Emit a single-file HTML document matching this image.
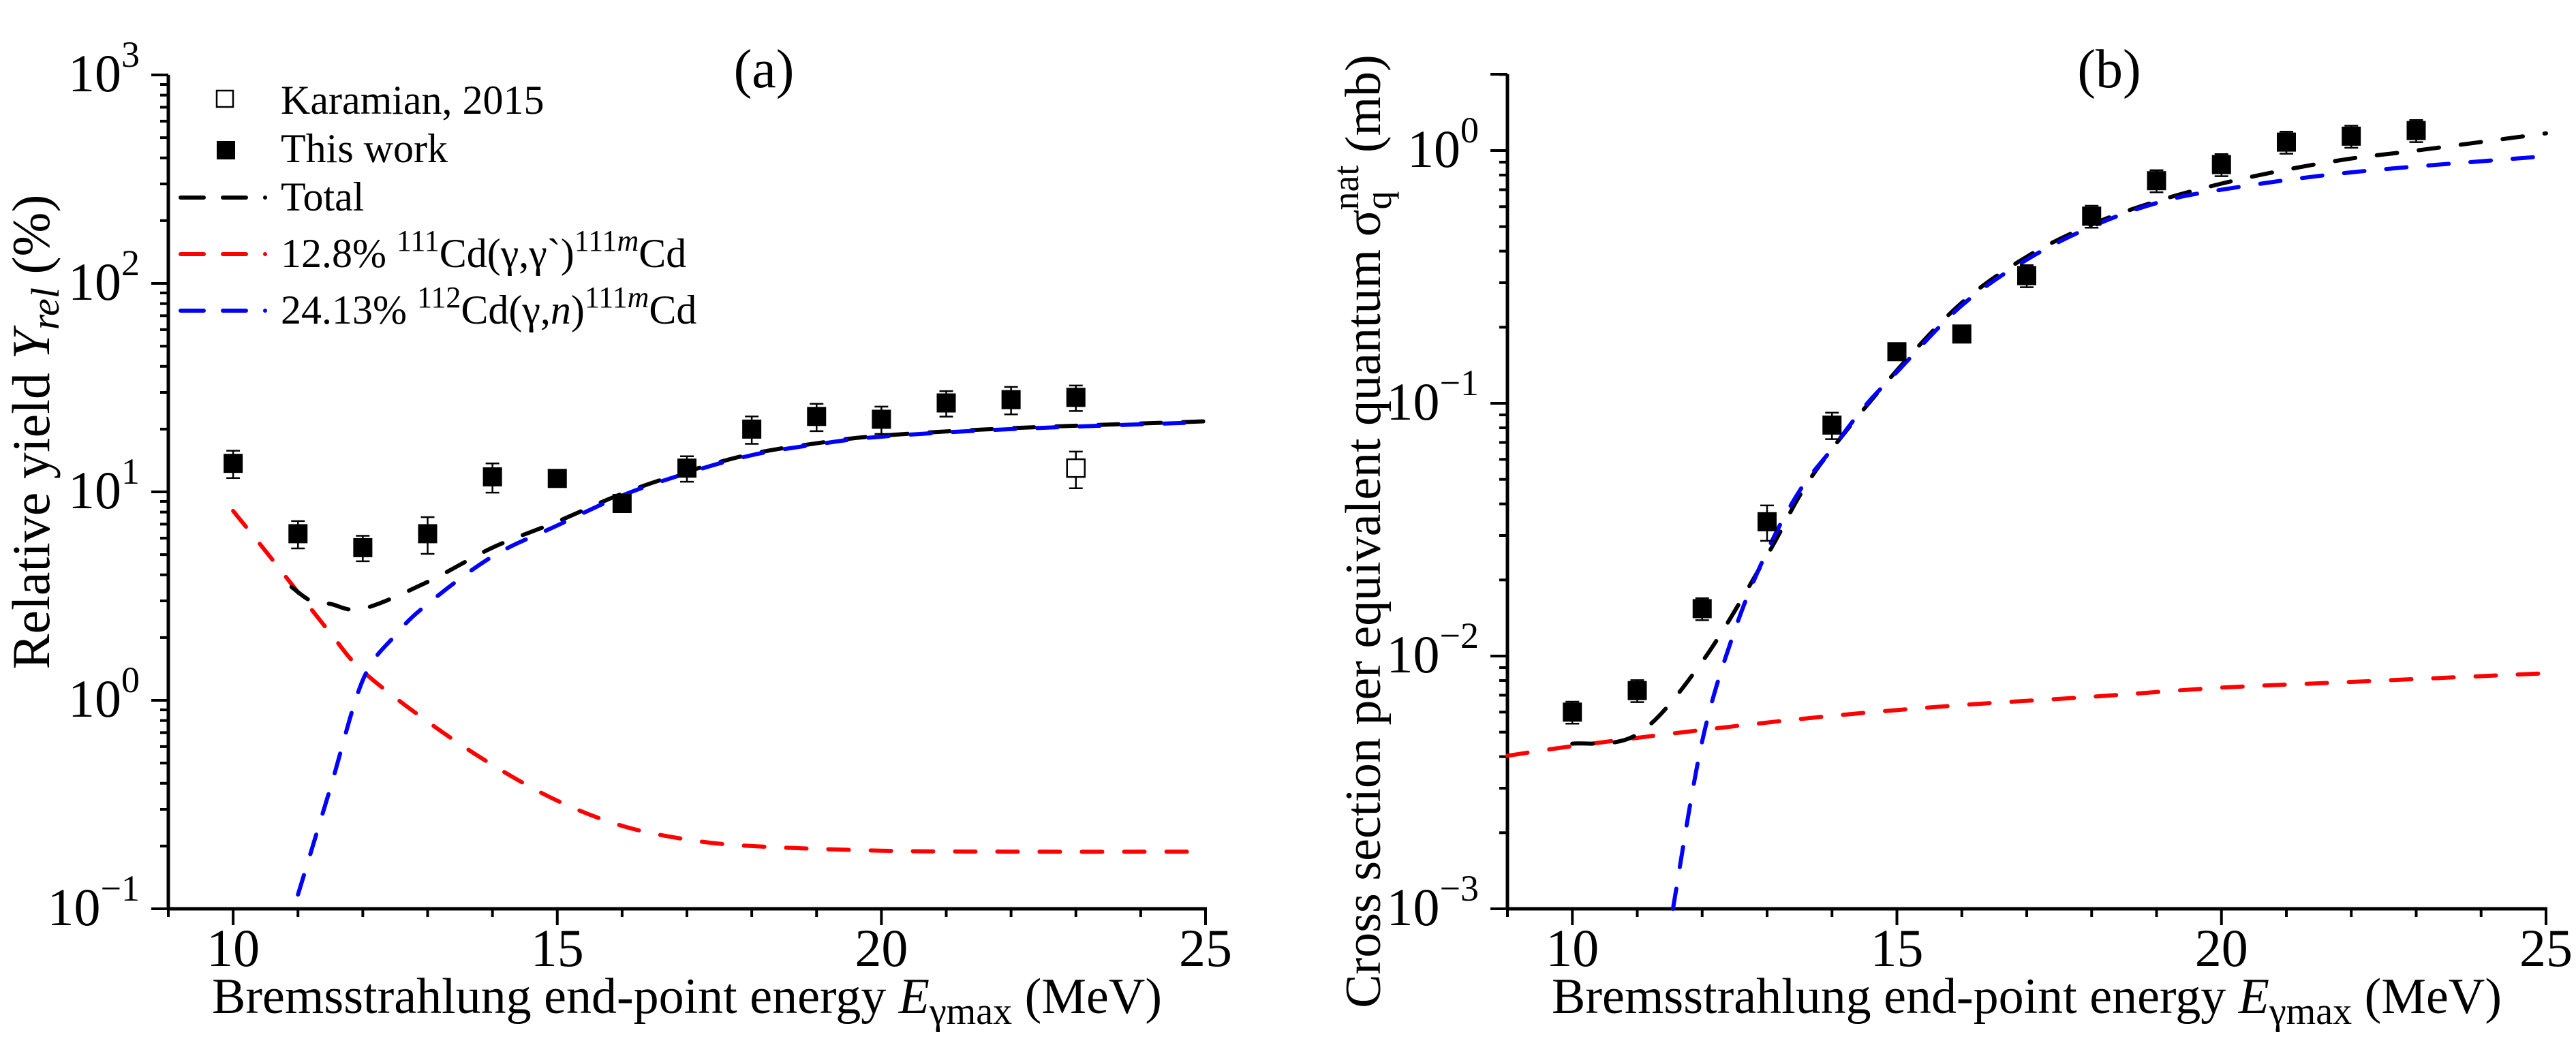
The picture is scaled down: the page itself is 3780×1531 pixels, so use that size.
<!DOCTYPE html>
<html><head><meta charset="utf-8">
<style>
html,body{margin:0;padding:0;background:#fff;}
svg{display:block;font-family:"Liberation Serif","Noto Serif CJK SC","DejaVu Serif",serif;}
svg text{font-family:"Liberation Serif","Noto Serif CJK SC","DejaVu Serif",serif;fill:#000;}
</style></head>
<body>
<svg id="s" width="3780" height="1531" xmlns="http://www.w3.org/2000/svg">
<text x="1121" y="128" font-size="80" text-anchor="middle">(a)</text>
<text x="3095" y="128" font-size="80" text-anchor="middle">(b)</text>
<text x="1008" y="1487" font-size="74" text-anchor="middle">Bremsstrahlung end-point energy <tspan font-style="italic">E</tspan><tspan font-size="56" dy="16">γmax</tspan><tspan dy="-16"> (MeV)</tspan></text>
<text x="2974" y="1487" font-size="74" text-anchor="middle">Bremsstrahlung end-point energy <tspan font-style="italic">E</tspan><tspan font-size="56" dy="16">γmax</tspan><tspan dy="-16"> (MeV)</tspan></text>
<text transform="translate(72,634) rotate(-90)" font-size="78" text-anchor="middle">Relative yield <tspan font-style="italic">Y</tspan><tspan font-style="italic" font-size="58" dy="14">rel</tspan><tspan dy="-14"> (%)</tspan></text>
<text transform="translate(2025,780) rotate(-90)" font-size="74" text-anchor="middle">Cross section per equivalent quantum σ<tspan font-size="54" dy="16">q</tspan><tspan font-size="54" dx="-28" dy="-48">nat</tspan><tspan dy="32"> (mb)</tspan></text>
<rect x="318" y="133" width="24" height="24" fill="none" stroke="#000" stroke-width="2.5"/>
<text x="412" y="167" font-size="60">Karamian, 2015</text>
<rect x="318" y="207" width="27" height="27" fill="#000"/>
<text x="412" y="238" font-size="60">This work</text>
<line x1="265" y1="290" x2="400" y2="290" stroke="#000" stroke-width="6" stroke-linecap="round" stroke-dasharray="34 28 34 28 0 100"/>
<text x="412" y="309" font-size="60">Total</text>
<line x1="265" y1="373" x2="400" y2="373" stroke="#f00" stroke-width="6" stroke-linecap="round" stroke-dasharray="34 28 34 28 0 100"/>
<text x="412" y="392" font-size="60">12.8% <tspan font-size="44" dy="-24">111</tspan><tspan dy="24">Cd(γ,γ`)</tspan><tspan font-size="44" dy="-24">111<tspan font-style="italic">m</tspan></tspan><tspan dy="24">Cd</tspan></text>
<line x1="265" y1="456" x2="400" y2="456" stroke="#00f" stroke-width="6" stroke-linecap="round" stroke-dasharray="34 28 34 28 0 100"/>
<text x="412" y="475" font-size="60">24.13% <tspan font-size="44" dy="-24">112</tspan><tspan dy="24">Cd(γ,</tspan><tspan font-style="italic">n</tspan><tspan>)</tspan><tspan font-size="44" dy="-24">111<tspan font-style="italic">m</tspan></tspan><tspan dy="24">Cd</tspan></text>
<g id="g"></g>
</svg>
<script>
var NS="http://www.w3.org/2000/svg",G=document.getElementById('g');
function el(t,a,txt){var e=document.createElementNS(NS,t);for(var k in a)e.setAttribute(k,a[k]);if(txt!==undefined)e.textContent=txt;G.appendChild(e);return e;}
function panel(P){
 var X=function(v){return P.x0+(v-9)*(P.x1-P.x0)/16;};
 var Y=function(v){return P.yb-(Math.log10(v)-P.lmin)*P.dec;};
 P.X=X;P.Y=Y;
 el('line',{x1:P.x0,y1:P.yt,x2:P.x0,y2:P.yb+2,stroke:'#000','stroke-width':5});
 el('line',{x1:P.x0-2,y1:P.yb,x2:P.x1+2,y2:P.yb,stroke:'#000','stroke-width':5});
 for(var e=9;e<=25;e++){var mj=(e%5==0);
  el('line',{x1:X(e),y1:P.yb,x2:X(e),y2:P.yb+(mj?24:12),stroke:'#000','stroke-width':4});
  if(mj&&e>9) el('text',{x:X(e),y:1418,'font-size':78,'text-anchor':'middle'},String(e));
 }
 el('line',{x1:P.x0,y1:P.yt,x2:P.x0-25,y2:P.yt,stroke:'#000','stroke-width':4});
 for(var d=P.lmin;d<=P.lmax;d++){
  for(var m=1;m<10;m++){var v=m*Math.pow(10,d);var y=Y(v);if(y<P.yt-1)break;
   el('line',{x1:P.x0,y1:y,x2:P.x0-(m==1?25:12),y2:y,stroke:'#000','stroke-width':4});
  }
  var t=el('text',{x:P.lx,y:Y(Math.pow(10,d))+24,'font-size':78,'text-anchor':'end'});
  t.innerHTML='10<tspan font-size="54" dy="-36">'+(d<0?'\u2212'+(-d):d)+'</tspan>';
 }
}
function curve(P,pts,col){
 var p=pts.map(function(a){return [P.X(a[0]),P.Y(a[1])];});
 var d='M'+p[0][0]+','+p[0][1];
 for(var i=0;i<p.length-1;i++){
  var p0=p[i-1]||p[i],p1=p[i],p2=p[i+1],p3=p[i+2]||p[i+1];
  var c1=[p1[0]+(p2[0]-p0[0])/6,p1[1]+(p2[1]-p0[1])/6],c2=[p2[0]-(p3[0]-p1[0])/6,p2[1]-(p3[1]-p1[1])/6];
  d+=' C'+c1+' '+c2+' '+p2;
 }
 el('path',{d:d,fill:'none',stroke:col,'stroke-width':6,'stroke-linecap':'round','stroke-dasharray':'30 32'});
}
function pts(P,data,open){
 data.forEach(function(a){var x=P.X(a[0]),y=P.Y(a[1]),yl=P.Y(a[1]*(1-a[2])),yh=P.Y(a[1]*(1+a[2]));
  el('line',{x1:x,y1:yh,x2:x,y2:yl,stroke:'#000','stroke-width':2.5});
  el('line',{x1:x-10,y1:yh,x2:x+10,y2:yh,stroke:'#000','stroke-width':2.5});
  el('line',{x1:x-10,y1:yl,x2:x+10,y2:yl,stroke:'#000','stroke-width':2.5});
  if(open)el('rect',{x:x-13,y:y-13,width:26,height:26,fill:'#fff',stroke:'#000','stroke-width':2.5});
  else el('rect',{x:x-14,y:y-14,width:28,height:28,fill:'#000'});
 });
}
var A={x0:247,x1:1769,yb:1334,yt:110,lmin:-1,lmax:3,dec:306,lx:205};
panel(A);
var redA=[[10,8.1],[10.5,5.2],[11,3.3],[11.5,2.1],[12,1.38],[13,0.79],[14,0.49],[15,0.33],[16,0.25],[17,0.215],[18,0.2],[20,0.19],[22,0.188],[25,0.188]];
var blueA=[[11,0.117],[11.5,0.38],[12,1.25],[12.5,2.05],[13,2.9],[14,4.9],[15,6.9],[16,9.6],[17,12.3],[18,15],[19,16.9],[20,18.4],[22,20],[25,21.6]];
var blkA=[[10.9,3.5],[11.2,3.0],[11.5,2.9],[12,2.75],[13,3.7],[14,5.4],[15,7.2],[16,9.8],[17,12.5],[18,15.2],[19,17.1],[20,18.6],[22,20.2],[25,21.8]];
curve(A,redA,'#f00');curve(A,blkA,'#000');curve(A,blueA,'#00f');
pts(A,[[10,13.7,.15],[11,6.3,.15],[12,5.4,.14],[13,6.3,.2],[14,11.8,.16],[15,11.6,.06],[16,8.8,.08],[17,13,.14],[18,20,.15],[19,23,.15],[20,22.3,.15],[21,26.7,.14],[22,27.7,.15],[23,28.4,.14]]);
pts(A,[[23,13,.2]],true);

var B={x0:2212,x1:3736,yb:1334,yt:109,lmin:-3,lmax:0,dec:371,lx:2170};
panel(B);
var redB=[[9,0.00403],[10,0.0044],[12,0.0051],[14,0.0058],[16,0.0064],[18,0.0069],[20,0.0075],[22,0.0079],[25,0.00855]];
var blueB=[[11.55,0.001],[12,0.0046],[12.5,0.0126],[13,0.026],[13.5,0.045],[14,0.066],[14.5,0.097],[15,0.133],[16,0.244],[17,0.37],[18,0.5],[19,0.62],[20,0.7],[22,0.82],[25,0.95]];
var blkB=[[10,0.0045],[11,0.0049],[12,0.0095],[13,0.025],[13.5,0.043],[14,0.066],[15,0.135],[16,0.25],[17,0.38],[18,0.51],[19,0.63],[20,0.74],[21,0.84],[22,0.93],[23,1.0],[25,1.17]];
curve(B,redB,'#f00');curve(B,blkB,'#000');curve(B,blueB,'#00f');
pts(B,[[10,0.006,.1],[11,0.0073,.1],[12,0.0154,.1],[13,0.034,.16],[14,0.082,.12],[15,0.16,.05],[16,0.188,.05],[17,0.32,.1],[18,0.55,.1],[19,0.76,.1],[20,0.88,.1],[21,1.08,.1],[22,1.14,.1],[23,1.2,.1]]);
</script>
</body></html>
